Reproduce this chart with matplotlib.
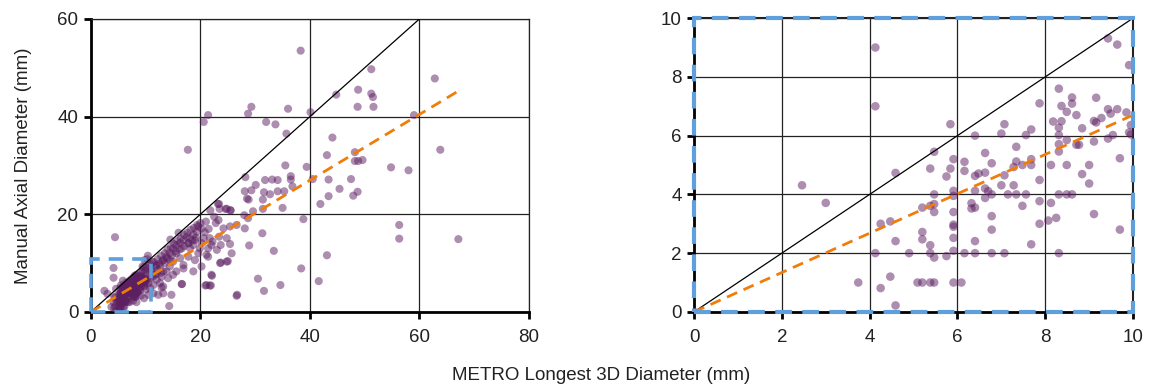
#!/usr/bin/env python3

import matplotlib
matplotlib.use('Agg')
import matplotlib.pyplot as plt
from matplotlib.patches import Rectangle

# points with METRO diameter <= 10 mm (shown in both panels)
small_x = [0.0, 4.13, 4.13, 2.46, 3.0, 4.59, 4.25, 4.47, 4.59, 4.13, 3.74, 4.25, 4.47, 4.59,
           4.9, 5.09, 5.2, 5.38, 5.47, 5.2, 5.2, 5.38, 5.38, 5.47, 5.2, 5.38, 5.47, 5.47,
           5.47, 5.38, 5.47, 5.75, 5.75, 5.84, 5.84, 5.91, 5.91, 5.91, 5.91, 5.91, 5.91,
           5.91, 5.91, 5.91, 6.09, 6.16, 6.16, 6.16, 6.4, 6.4, 6.4, 6.32, 6.4, 6.32, 6.4,
           6.4, 6.48, 6.63, 6.63, 6.63, 6.63, 6.7, 6.78, 6.78, 6.78, 6.78, 6.78, 7.0, 7.07,
           7.07, 7.0, 7.07, 7.15, 7.28, 7.28, 7.34, 7.34, 7.34, 7.48, 7.48, 7.56, 7.56, 7.68,
           7.68, 7.68, 7.68, 7.87, 7.87, 7.87, 7.87, 8.07, 8.13, 8.13, 8.18, 8.25, 8.31, 8.31,
           8.31, 8.31, 8.31, 8.31, 8.31, 8.37, 8.37, 8.49, 8.49, 8.49, 8.49, 8.61, 8.61, 8.61,
           8.71, 8.71, 8.77, 8.84, 8.84, 9.0, 9.0, 9.11, 9.11, 9.11, 9.16, 9.16, 9.28, 9.43,
           9.43, 9.43, 9.49, 9.54, 9.64, 9.64, 9.7, 9.7, 9.85, 9.91, 9.91, 9.95, 9.95]
small_y = [0.0, 9.0, 7.0, 4.31, 3.71, 4.73, 3.0, 3.08, 2.41, 2.0, 1.0, 0.81, 1.2, 0.22,
           2.0, 1.0, 1.0, 1.0, 1.0, 2.72, 2.47, 2.27, 2.0, 1.85, 3.55, 3.61, 3.67, 3.4,
           4.0, 4.88, 5.45, 4.61, 1.9, 6.39, 4.88, 5.2, 4.12, 3.95, 3.4, 2.97, 2.9,
           2.52, 2.08, 1.0, 1.0, 5.11, 4.8, 2.0, 6.0, 4.63, 4.12, 3.7, 3.55, 3.52, 2.41,
           2.0, 4.71, 5.41, 4.74, 4.2, 3.88, 4.11, 5.06, 4.0, 3.26, 2.8, 2.0, 6.07, 6.39,
           4.65, 4.31, 2.0, 4.0, 4.31, 4.93, 5.62, 5.12, 4.0, 5.0, 3.61, 6.02, 4.0, 6.21,
           5.2, 5.0, 2.3, 7.1, 4.49, 3.77, 3.0, 3.11, 5.0, 3.71, 6.48, 3.2, 7.6, 6.27,
           6.02, 5.71, 5.46, 4.0, 2.0, 7.01, 6.49, 6.81, 5.85, 5.0, 4.0, 7.3, 7.09, 4.0,
           6.7, 5.69, 5.69, 6.25, 4.69, 5.0, 4.37, 6.5, 5.8, 3.33, 7.29, 6.45, 6.6, 6.9,
           5.9, 9.31, 6.75, 6.02, 9.1, 6.9, 5.23, 2.8, 6.79, 8.4, 6.11, 6.36, 6.04]

# remaining points (only in the full-range panel)
large_x = [38.3, 51.2, 62.8, 44.8, 48.8, 51.2, 51.5, 48.7, 51.6, 29.3, 28.7, 36.0, 40.1, 59.0,
           21.4, 20.6, 32.0, 33.7, 35.7, 44.1, 17.7, 63.8, 43.1, 48.2, 48.2, 48.8, 49.6, 54.8,
           58.0, 35.5, 39.4, 28.2, 31.8, 33.1, 34.1, 36.5, 36.5, 36.8, 40.5, 43.4, 47.5, 45.4,
           48.7, 47.9, 43.4, 41.9, 28.1, 29.3, 31.6, 32.7, 34.1, 35.3, 28.5, 28.8, 31.4, 30.1,
           23.2, 21.8, 23.5, 24.6, 25.5, 35.0, 31.4, 29.6, 28.0, 38.8, 56.3, 56.3, 67.1, 43.1,
           38.4, 41.6, 30.5, 34.6, 31.6, 26.7, 33.4, 31.3, 28.9, 25.7, 25.0, 23.7, 22.1, 20.9,
           21.9, 14.3, 16.6, 4.4,
           23.4, 24.8, 25.5, 23.3, 22.8, 24.2, 25.4, 26.6, 28.1, 28.7, 23.4, 24.8, 25.4, 23.7,
           22.2, 21.7, 20.8, 20.2, 19.6, 19.3, 18.7, 18.1, 17.5, 16.9, 16.3, 15.6, 15.0, 14.4,
           13.8, 13.2, 21.1, 21.4, 23.6, 24.8, 22.0, 21.1, 21.7, 26.6, 16.6, 18.7, 16.9, 12.9,
           14.7, 13.2, 12.3, 19.6, 18.1, 18.7, 19.9, 19.0, 17.8, 16.6, 15.6, 16.3, 15.0, 14.4,
           15.6, 13.8, 12.9, 12.0, 14.1, 15.0, 11.4, 16.9, 17.8, 19.0, 20.2, 20.6, 20.2, 21.4,
           23.0, 22.0, 13.2, 12.6, 13.5, 14.4, 12.3, 11.7, 10.8, 11.1, 12.0, 10.2, 10.5, 12.6,
           13.2, 10.8, 11.4, 10.5, 10.3, 10.6, 11.2, 9.8, 10.4,
           9.5, 10.2, 10.8, 11.5, 12.2, 12.8, 13.5, 14.0, 14.6, 15.2, 15.8, 16.4, 17.0, 17.6,
           18.2, 18.8, 19.4, 20.0, 11.0, 11.8, 12.5, 13.1, 13.9, 14.8, 15.5, 16.2, 17.0, 17.8,
           18.5, 19.2, 10.0, 10.7, 11.3, 12.0, 12.8, 9.0, 9.6, 10.1, 8.5, 8.8, 16.0, 14.5,
           21.0, 21.5, 22.5, 7.5, 8.0, 6.8, 7.2, 9.2, 8.2, 6.2, 7.8]
large_y = [53.5, 49.7, 47.8, 44.5, 45.5, 44.7, 44.0, 42.0, 42.0, 42.0, 40.6, 41.6, 40.9, 40.3,
           40.3, 38.9, 38.9, 38.4, 36.5, 35.7, 33.2, 33.2, 32.1, 32.7, 30.9, 30.9, 31.1, 29.6,
           29.0, 30.0, 29.7, 27.6, 27.0, 27.1, 27.0, 27.8, 27.1, 25.7, 27.2, 27.1, 27.2, 25.2,
           24.6, 23.8, 23.7, 22.1, 24.7, 24.9, 24.5, 24.1, 24.7, 24.7, 23.2, 23.0, 23.0, 26.0,
           22.1, 20.8, 21.1, 21.1, 20.8, 21.3, 21.1, 20.6, 19.8, 19.0, 17.8, 15.0, 14.9, 11.6,
           8.9, 6.3, 6.8, 5.5, 4.3, 3.5, 12.5, 16.1, 13.6, 12.0, 10.4, 10.1, 7.4, 5.4,
           5.4, 1.2, 5.7, 15.3,
           22.1, 21.1, 20.8, 18.8, 18.2, 17.1, 17.5, 17.8, 17.1, 19.2, 15.4, 15.1, 13.9, 13.7,
           14.4, 15.1, 16.3, 17.1, 17.5, 16.4, 15.8, 15.1, 15.4, 14.7, 14.1, 13.7, 13.0, 12.0,
           11.3, 10.6, 11.7, 11.3, 10.0, 10.3, 7.6, 5.5, 5.4, 3.3, 5.7, 8.3, 8.9, 5.0,
           3.5, 3.8, 3.5, 12.0, 13.0, 13.7, 13.0, 14.7, 14.1, 13.0, 12.0, 11.0, 10.3, 9.3,
           8.3, 8.3, 7.2, 6.6, 6.9, 7.6, 5.5, 9.6, 11.3, 10.6, 9.3, 15.1, 14.1, 13.0,
           12.7, 13.7, 8.3, 9.3, 10.0, 10.6, 8.6, 7.6, 6.9, 8.3, 9.6, 6.6, 5.9, 5.9,
           5.2, 4.9, 3.8, 3.5, 10.8, 9.4, 10.2, 10.6, 11.5,
           8.5, 9.0, 9.8, 10.2, 10.8, 11.5, 12.0, 12.8, 13.2, 13.9, 14.5, 15.0, 15.8, 16.2,
           16.8, 17.2, 17.8, 18.2, 8.8, 9.4, 9.9, 10.5, 11.0, 11.6, 12.4, 12.8, 13.5, 14.0,
           14.6, 15.2, 7.5, 8.0, 7.2, 7.8, 8.0, 6.2, 5.5, 4.6, 5.8, 7.5, 16.2, 14.8,
           18.5, 17.0, 19.5, 6.8, 7.4, 5.9, 6.3, 8.1, 7.0, 4.9, 3.2]

# regression line end points
fit_full_x = [0, 67.2]
fit_full_y = [0, 45.3]
fit_zoom_x = [0, 10]
fit_zoom_y = [0, 6.7]

full_ticks_x = [0, 20, 40, 60, 80]
full_ticks_y = [0, 20, 40, 60]
zoom_ticks = [0, 2, 4, 6, 8, 10]

plt.rcParams['font.family'] = ['Liberation Sans', 'DejaVu Sans']
plt.rcParams['font.size'] = 13

PURPLE = '#5c1f62'
ORANGE = '#f07d0a'
BLUE = '#5e9fdc'


def style_axes(ax, xticks, yticks):
    ax.set_xticks(xticks)
    ax.set_yticks(yticks)
    ax.set_xlim(xticks[0], xticks[-1])
    ax.set_ylim(yticks[0], yticks[-1])
    ax.grid(True, color='#222222', lw=0.9)
    ax.set_axisbelow(True)
    for side in ['left', 'bottom']:
        ax.spines[side].set_linewidth(2.0)
        ax.spines[side].set_color('black')
    for side in ['top', 'right']:
        ax.spines[side].set_linewidth(0.9)
        ax.spines[side].set_color('#222222')
    ax.tick_params(direction='out', length=5, width=2.0, colors='black',
                   labelcolor='#222222', labelsize=13.5)
    ax.tick_params(axis='x', pad=7)
    ax.tick_params(axis='y', pad=4)


fig = plt.figure(figsize=(11.51, 3.86), dpi=100)
ax1 = fig.add_axes([0.079, 0.192, 0.3806, 0.759])
ax2 = fig.add_axes([0.603, 0.192, 0.3814, 0.761])

# full range panel
all_x = small_x + large_x
all_y = small_y + large_y
ax1.scatter(all_x, all_y, s=34, color=PURPLE, alpha=0.5, edgecolors='none', zorder=3)
ax1.plot([0, 60], [0, 60], color='black', lw=0.9, zorder=4)
ax1.plot(fit_full_x, fit_full_y, color=ORANGE, lw=2, ls=(0, (4, 2.5)), zorder=5)
ax1.add_patch(Rectangle((0, 0), 11, 10.9, fill=False, ec=BLUE, lw=2.6,
                        ls=(0, (4, 2.5)), zorder=6, clip_on=False))
style_axes(ax1, full_ticks_x, full_ticks_y)
ax1.set_ylabel('Manual Axial Diameter (mm)', fontsize=13.5, color='#222222', labelpad=18)

# zoomed panel
ax2.scatter(small_x, small_y, s=38, color=PURPLE, alpha=0.5, edgecolors='none', zorder=3)
ax2.plot([0, 10], [0, 10], color='black', lw=0.9, zorder=4)
ax2.plot(fit_zoom_x, fit_zoom_y, color=ORANGE, lw=2, ls=(0, (4, 2.5)), zorder=5)
style_axes(ax2, zoom_ticks, zoom_ticks)
for side in ['top', 'right']:
    ax2.spines[side].set_linewidth(1.5)
ax2.add_patch(Rectangle((0, 0), 10, 10, fill=False, ec=BLUE, lw=3,
                        ls=(0, (4, 2.5)), zorder=6, clip_on=False))

fig.text(0.522, 0.028, 'METRO Longest 3D Diameter (mm)', ha='center', va='center',
         fontsize=13.5, color='#222222')

fig.savefig('out.png', dpi=100)
